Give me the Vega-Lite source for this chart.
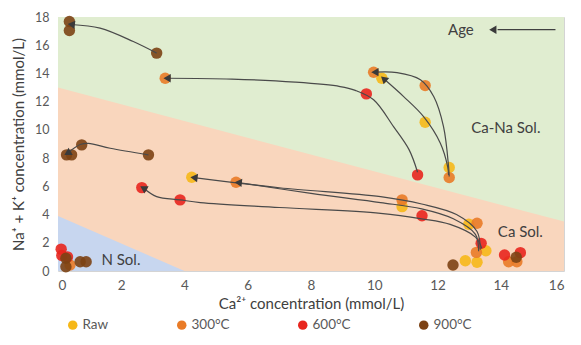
{
  "$schema": "https://vega.github.io/schema/vega-lite/v6.json",
  "width": 506,
  "height": 254,
  "autosize": {"type": "none"},
  "padding": {"left": 58, "top": 17, "right": 17, "bottom": 74},
  "background": "white",
  "config": {
    "font": "Lato",
    "view": {"stroke": "#d4d4d4", "strokeWidth": 1},
    "axis": {"labelFont": "Lato", "titleFont": "Lato", "labelColor": "#595959", "titleColor": "#404040", "labelFontSize": 13.5, "titleFontSize": 15, "titleFontWeight": "normal", "grid": false, "ticks": false, "domain": false}
  },
  "encoding": {
    "x": {"field": "x", "type": "quantitative", "scale": {"domain": [0, 16], "nice": false}, "axis": {"values": [0, 2, 4, 6, 8, 10, 12, 14, 16], "title": "Ca²⁺ concentration (mmol/L)", "labelPadding": 7, "titlePadding": 5}},
    "y": {"field": "y", "type": "quantitative", "scale": {"domain": [0, 18], "nice": false}, "axis": {"values": [0, 2, 4, 6, 8, 10, 12, 14, 16, 18], "title": "Na⁺ + K⁺ concentration (mmol/L)", "labelPadding": 9, "titlePadding": 8, "labelOverlap": false, "labelFontSize": 12.5}}
  },
  "datasets": {
    "green": [
      {"x": 0, "y": 18, "y0": 0},
      {"x": 16, "y": 18, "y0": 0}
    ],
    "orange": [
      {"x": 0, "y": 13, "y0": 0},
      {"x": 16, "y": 3.5, "y0": 0}
    ],
    "blue": [
      {"x": 0, "y": 3.9, "y0": 0},
      {"x": 4, "y": 0, "y0": 0}
    ],
    "curves": [
      {"c": "b1", "o": 1, "x": 3.12, "y": 15.44},
      {"c": "b1", "o": 2, "x": 2.38, "y": 16.26},
      {"c": "b1", "o": 3, "x": 1.33, "y": 17.21},
      {"c": "b1", "o": 4, "x": 0.42, "y": 17.47},
      {"c": "r1", "o": 1, "x": 11.37, "y": 7.0},
      {"c": "r1", "o": 2, "x": 11.1, "y": 8.6},
      {"c": "r1", "o": 3, "x": 10.61, "y": 10.23},
      {"c": "r1", "o": 4, "x": 9.98, "y": 12.13},
      {"c": "r1", "o": 5, "x": 9.4, "y": 12.8},
      {"c": "r1", "o": 6, "x": 8.92, "y": 13.07},
      {"c": "r1", "o": 7, "x": 7.5, "y": 13.38},
      {"c": "r1", "o": 8, "x": 5.5, "y": 13.6},
      {"c": "r1", "o": 9, "x": 3.45, "y": 13.66},
      {"c": "y1", "o": 1, "x": 12.35, "y": 6.8},
      {"c": "y1", "o": 2, "x": 12.32, "y": 7.4},
      {"c": "y1", "o": 3, "x": 12.09, "y": 9.06},
      {"c": "y1", "o": 4, "x": 11.56, "y": 10.94},
      {"c": "y1", "o": 5, "x": 10.93, "y": 12.36},
      {"c": "y1", "o": 6, "x": 10.3, "y": 13.62},
      {"c": "o1", "o": 1, "x": 12.37, "y": 6.7},
      {"c": "o1", "o": 2, "x": 12.35, "y": 7.4},
      {"c": "o1", "o": 3, "x": 12.19, "y": 10.23},
      {"c": "o1", "o": 4, "x": 11.88, "y": 12.36},
      {"c": "o1", "o": 5, "x": 11.46, "y": 13.55},
      {"c": "o1", "o": 6, "x": 10.72, "y": 14.06},
      {"c": "o1", "o": 7, "x": 10.02, "y": 14.09},
      {"c": "y2", "o": 1, "x": 13.35, "y": 1.5},
      {"c": "y2", "o": 2, "x": 13.25, "y": 2.8},
      {"c": "y2", "o": 3, "x": 12.6, "y": 4.0},
      {"c": "y2", "o": 4, "x": 11.5, "y": 4.75},
      {"c": "y2", "o": 5, "x": 10.2, "y": 5.27},
      {"c": "y2", "o": 6, "x": 7.0, "y": 5.9},
      {"c": "y2", "o": 7, "x": 4.3, "y": 6.62},
      {"c": "o2", "o": 1, "x": 13.3, "y": 1.4},
      {"c": "o2", "o": 2, "x": 13.2, "y": 2.6},
      {"c": "o2", "o": 3, "x": 12.5, "y": 3.7},
      {"c": "o2", "o": 4, "x": 11.5, "y": 4.4},
      {"c": "o2", "o": 5, "x": 10.2, "y": 4.85},
      {"c": "o2", "o": 6, "x": 8.0, "y": 5.5},
      {"c": "o2", "o": 7, "x": 5.7, "y": 6.27},
      {"c": "r2", "o": 1, "x": 13.4, "y": 1.6},
      {"c": "r2", "o": 2, "x": 13.2, "y": 2.4},
      {"c": "r2", "o": 3, "x": 12.4, "y": 3.3},
      {"c": "r2", "o": 4, "x": 11.5, "y": 3.7},
      {"c": "r2", "o": 5, "x": 10.2, "y": 4.09},
      {"c": "r2", "o": 6, "x": 7.0, "y": 4.5},
      {"c": "r2", "o": 7, "x": 4.5, "y": 4.85},
      {"c": "r2", "o": 8, "x": 3.86, "y": 5.04},
      {"c": "r2", "o": 9, "x": 3.12, "y": 5.27},
      {"c": "r2", "o": 10, "x": 2.7, "y": 5.88},
      {"c": "b2", "o": 1, "x": 2.86, "y": 8.23},
      {"c": "b2", "o": 2, "x": 1.65, "y": 8.7},
      {"c": "b2", "o": 3, "x": 0.96, "y": 9.05},
      {"c": "b2", "o": 4, "x": 0.7, "y": 8.96},
      {"c": "b2", "o": 5, "x": 0.3, "y": 8.35}
    ],
    "heads": [
      {"x": 0.42, "y": 17.47, "a": 6},
      {"x": 3.45, "y": 13.66, "a": 1},
      {"x": 10.3, "y": 13.62, "a": 42},
      {"x": 10.02, "y": 14.09, "a": 0},
      {"x": 4.3, "y": 6.62, "a": 7},
      {"x": 5.7, "y": 6.27, "a": 6},
      {"x": 2.7, "y": 5.88, "a": 31},
      {"x": 0.3, "y": 8.35, "a": -30},
      {"x": 13.75, "y": 17.1, "a": 0}
    ],
    "points": [
      {"x": 10.24, "y": 13.66, "s": "Raw"},
      {"x": 11.61, "y": 10.54, "s": "Raw"},
      {"x": 12.37, "y": 7.33, "s": "Raw"},
      {"x": 4.23, "y": 6.64, "s": "Raw"},
      {"x": 10.88, "y": 4.56, "s": "Raw"},
      {"x": 12.99, "y": 3.31, "s": "Raw"},
      {"x": 13.53, "y": 1.44, "s": "Raw"},
      {"x": 12.88, "y": 0.73, "s": "Raw"},
      {"x": 13.25, "y": 0.62, "s": "Raw"},
      {"x": 3.39, "y": 13.66, "s": "300°C"},
      {"x": 9.98, "y": 14.09, "s": "300°C"},
      {"x": 11.61, "y": 13.14, "s": "300°C"},
      {"x": 12.37, "y": 6.62, "s": "300°C"},
      {"x": 5.63, "y": 6.29, "s": "300°C"},
      {"x": 10.88, "y": 5.04, "s": "300°C"},
      {"x": 13.25, "y": 3.38, "s": "300°C"},
      {"x": 13.23, "y": 1.32, "s": "300°C"},
      {"x": 14.25, "y": 0.66, "s": "300°C"},
      {"x": 14.51, "y": 0.66, "s": "300°C"},
      {"x": 0.38, "y": 0.43, "s": "300°C"},
      {"x": 9.75, "y": 12.55, "s": "600°C"},
      {"x": 11.37, "y": 6.81, "s": "600°C"},
      {"x": 2.65, "y": 5.91, "s": "600°C"},
      {"x": 3.86, "y": 5.04, "s": "600°C"},
      {"x": 11.51, "y": 3.92, "s": "600°C"},
      {"x": 13.38, "y": 1.96, "s": "600°C"},
      {"x": 14.12, "y": 1.13, "s": "600°C"},
      {"x": 14.62, "y": 1.3, "s": "600°C"},
      {"x": 0.1, "y": 1.55, "s": "600°C"},
      {"x": 0.12, "y": 1.1, "s": "600°C"},
      {"x": 0.3, "y": 1.0, "s": "600°C"},
      {"x": 0.36, "y": 17.68, "s": "900°C"},
      {"x": 0.36, "y": 17.04, "s": "900°C"},
      {"x": 3.12, "y": 15.44, "s": "900°C"},
      {"x": 0.27, "y": 8.23, "s": "900°C"},
      {"x": 0.43, "y": 8.23, "s": "900°C"},
      {"x": 0.75, "y": 8.94, "s": "900°C"},
      {"x": 2.86, "y": 8.23, "s": "900°C"},
      {"x": 12.49, "y": 0.43, "s": "900°C"},
      {"x": 14.49, "y": 0.97, "s": "900°C"},
      {"x": 0.25, "y": 0.9, "s": "900°C"},
      {"x": 0.25, "y": 0.3, "s": "900°C"},
      {"x": 0.7, "y": 0.66, "s": "900°C"},
      {"x": 0.89, "y": 0.66, "s": "900°C"}
    ],
    "labels": [
      {"x": 12.74, "y": 17.1, "t": "Age"},
      {"x": 14.16, "y": 10.12, "t": "Ca-Na Sol."},
      {"x": 14.62, "y": 2.79, "t": "Ca Sol."},
      {"x": 1.99, "y": 0.78, "t": "N Sol."}
    ],
    "agearrow": [
      {"x": 15.73, "x2": 13.9, "y": 17.1}
    ]
  },
  "layer": [
    {
      "data": {"name": "green"},
      "mark": {"type": "area", "color": "#e0edd0", "opacity": 1},
      "encoding": {"y2": {"field": "y0"}}
    },
    {
      "data": {"name": "orange"},
      "mark": {"type": "area", "color": "#f9d6bd", "opacity": 1},
      "encoding": {"y2": {"field": "y0"}}
    },
    {
      "data": {"name": "blue"},
      "mark": {"type": "area", "color": "#c7d6ef", "opacity": 1},
      "encoding": {"y2": {"field": "y0"}}
    },
    {
      "data": {"name": "points"},
      "mark": {"type": "point", "filled": true, "shape": "circle", "size": 130, "opacity": 0.9},
      "encoding": {
        "color": {"field": "s", "type": "nominal", "scale": {"domain": ["Raw", "300°C", "600°C", "900°C"], "range": ["#f6b818", "#e97b27", "#e8261e", "#7c4214"]},
          "legend": {"title": null, "orient": "none", "legendX": 8, "legendY": 301, "direction": "horizontal", "columns": 4, "columnPadding": 66, "symbolSize": 90, "symbolOpacity": 1, "labelFontSize": 13.5, "labelColor": "#595959", "labelFont": "Lato", "labelOffset": 3}}
      }
    },
    {
      "data": {"name": "curves"},
      "mark": {"type": "line", "interpolate": "catmull-rom", "color": "#4a4a4a", "strokeWidth": 1.2},
      "encoding": {
        "detail": {"field": "c"},
        "order": {"field": "o"}
      }
    },
    {
      "data": {"name": "agearrow"},
      "mark": {"type": "rule", "color": "#404040", "strokeWidth": 1.3},
      "encoding": {
        "x2": {"field": "x2"}
      }
    },
    {
      "data": {"name": "heads"},
      "mark": {"type": "point", "shape": "triangle-left", "filled": true, "size": 70, "color": "#3a3a3a", "opacity": 1},
      "encoding": {
        "angle": {"field": "a", "type": "quantitative", "scale": null}
      }
    },
    {
      "data": {"name": "labels"},
      "mark": {"type": "text", "fontSize": 15, "color": "#404040", "font": "Lato", "align": "center", "baseline": "middle"},
      "encoding": {
        "text": {"field": "t"}
      }
    }
  ]
}
